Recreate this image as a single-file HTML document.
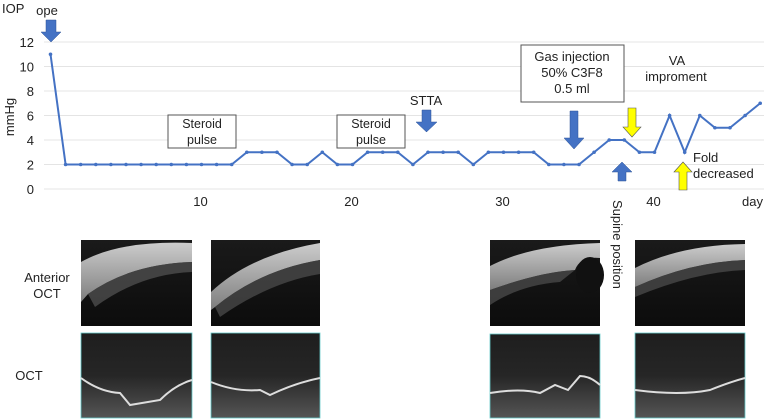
<!DOCTYPE html>
<html><head><meta charset="utf-8"><style>
html,body{margin:0;padding:0;background:#fff;}
svg{display:block;font-family:"Liberation Sans",Arial,sans-serif;}
</style></head><body>
<svg id="chart" width="764" height="420" viewBox="0 0 764 420" xmlns="http://www.w3.org/2000/svg">
<defs>
<linearGradient id="ag" x1="0" y1="0" x2="0" y2="1"><stop offset="0" stop-color="#1a1a1a"/><stop offset="1" stop-color="#0c0c0c"/></linearGradient>
<linearGradient id="og" x1="0" y1="0" x2="0" y2="1"><stop offset="0" stop-color="#1e1e1e"/><stop offset="0.5" stop-color="#262626"/><stop offset="1" stop-color="#555"/></linearGradient>
<linearGradient id="band" x1="0" y1="0" x2="0" y2="1"><stop offset="0" stop-color="#e0e0e0"/><stop offset="1" stop-color="#8a8a8a"/></linearGradient>
</defs>
<g id="grid"></g>
<g id="yticks"></g>
<g id="xticks"></g>
<text x="2" y="13" font-size="13" fill="#222">IOP</text>
<text x="14" y="117" font-size="13" fill="#222" text-anchor="middle" transform="rotate(-90 14 117)">mmHg</text>
<text x="742" y="206" font-size="13" fill="#222">day</text>
<g id="series"></g>

<text x="47" y="15" font-size="13" fill="#222" text-anchor="middle">ope</text>
<polygon points="46,20 56,20 56,32 61,32 51,42 41,32 46,32" fill="#4472c4" stroke="#2f5597" stroke-width="0.5"/>

<rect x="168" y="115" width="68" height="33" fill="#fff" stroke="#555"/>
<text x="202" y="128" font-size="12.5" fill="#222" text-anchor="middle">Steroid</text>
<text x="202" y="144" font-size="12.5" fill="#222" text-anchor="middle">pulse</text>
<rect x="337" y="115" width="68" height="33" fill="#fff" stroke="#555"/>
<text x="371" y="128" font-size="12.5" fill="#222" text-anchor="middle">Steroid</text>
<text x="371" y="144" font-size="12.5" fill="#222" text-anchor="middle">pulse</text>

<text x="426" y="105" font-size="13" fill="#222" text-anchor="middle">STTA</text>
<polygon points="422,110 431,110 431,122 437,122 426.5,132 416,122 422,122" fill="#4472c4" stroke="#2f5597" stroke-width="0.5"/>

<rect x="521" y="45" width="103" height="57" fill="#fff" stroke="#555"/>
<text x="572" y="61" font-size="13" fill="#222" text-anchor="middle">Gas injection</text>
<text x="572" y="77" font-size="13" fill="#222" text-anchor="middle">50% C3F8</text>
<text x="572" y="93" font-size="13" fill="#222" text-anchor="middle">0.5 ml</text>
<polygon points="570,111 578,111 578,138 584,138 574,149 564,138 570,138" fill="#4472c4" stroke="#2f5597" stroke-width="0.5"/>

<polygon points="618,181 626,181 626,172 632,172 622,162 612,172 618,172" fill="#4472c4" stroke="#2f5597" stroke-width="0.5"/>
<text x="613" y="200" font-size="13" fill="#222" transform="rotate(90 613 200)">Supine position</text>

<polygon points="628,108 636,108 636,127 641,127 632,137 623,127 628,127" fill="#ffff00" stroke="#555" stroke-width="0.6"/>
<text x="677" y="65" font-size="13" fill="#222" text-anchor="middle">VA</text>
<text x="676" y="81" font-size="13" fill="#222" text-anchor="middle">improment</text>

<polygon points="679,190 687,190 687,172 692,172 683,162 674,172 679,172" fill="#ffff00" stroke="#555" stroke-width="0.6"/>
<text x="693" y="162" font-size="13" fill="#222">Fold</text>
<text x="693" y="178" font-size="13" fill="#222">decreased</text>

<text x="47" y="282" font-size="13" fill="#222" text-anchor="middle">Anterior</text>
<text x="47" y="298" font-size="13" fill="#222" text-anchor="middle">OCT</text>
<text x="29" y="380" font-size="13" fill="#222" text-anchor="middle">OCT</text>

<g>
<rect x="81" y="240" width="111" height="86" fill="url(#ag)"/>
<path d="M81,262 Q120,240 192,243 L192,262 Q130,264 88,294 L81,302 Z" fill="url(#band)" opacity="0.9"/>
<path d="M88,294 Q130,264 192,262 L192,272 Q140,274 95,307 Z" fill="#555" opacity="0.7"/>
</g>
<g>
<rect x="211" y="240" width="109" height="86" fill="url(#ag)"/>
<path d="M211,292 Q250,255 320,243 L320,260 Q260,270 215,307 L211,310 Z" fill="url(#band)" opacity="0.9"/>
<path d="M215,307 Q260,270 320,260 L320,274 Q270,282 220,317 Z" fill="#505050" opacity="0.7"/>
</g>
<g>
<rect x="490" y="240" width="110" height="86" fill="url(#ag)"/>
<path d="M490,266 Q530,245 600,243 L600,258 Q580,256 575,270 Q540,272 490,290 Z" fill="url(#band)" opacity="0.9"/>
<ellipse cx="590" cy="275" rx="14" ry="18" fill="#111"/>
<path d="M490,290 Q540,272 575,270 L560,282 Q520,285 490,305 Z" fill="#505050" opacity="0.7"/>
</g>
<g>
<rect x="635" y="240" width="110" height="86" fill="url(#ag)"/>
<path d="M635,268 Q680,245 745,244 L745,260 Q690,262 635,287 Z" fill="url(#band)" opacity="0.9"/>
<path d="M635,287 Q690,262 745,260 L745,270 Q695,272 635,297 Z" fill="#505050" opacity="0.7"/>
</g>

<g>
<rect x="81" y="333" width="111" height="85" fill="url(#og)" stroke="#6cc" stroke-width="0.8"/>
<path d="M81,378 Q100,392 120,393 L130,405 L160,400 Q175,385 192,380" fill="none" stroke="#ddd" stroke-width="2"/>
</g>
<g>
<rect x="211" y="333" width="109" height="85" fill="url(#og)" stroke="#6cc" stroke-width="0.8"/>
<path d="M211,382 Q235,392 260,390 L270,395 Q295,383 320,378" fill="none" stroke="#ddd" stroke-width="2"/>
</g>
<g>
<rect x="490" y="334" width="110" height="84" fill="url(#og)" stroke="#6cc" stroke-width="0.8"/>
<path d="M490,393 Q520,388 540,393 L555,385 L568,390 L580,376 Q590,376 600,385" fill="none" stroke="#ddd" stroke-width="2"/>
</g>
<g>
<rect x="635" y="333" width="110" height="85" fill="url(#og)" stroke="#6cc" stroke-width="0.8"/>
<path d="M635,390 Q680,396 710,390 Q730,382 745,378" fill="none" stroke="#ddd" stroke-width="2"/>
</g>
</svg>
<script>
const days = [0,1,2,3,4,5,6,7,8,9,10,11,12,13,14,15,16,17,18,19,20,21,22,23,24,25,26,27,28,29,30,31,32,33,34,35,36,37,38,39,40,41,42,43,44,45,46,47];
const iop  = [11,2,2,2,2,2,2,2,2,2,2,2,2,3,3,3,2,2,3,2,2,3,3,3,2,3,3,3,2,3,3,3,3,2,2,2,3,4,4,3,3,6,3,6,5,5,6,7];
const yTicks = [0,2,4,6,8,10,12];
const xTicks = [10,20,30,40];
const NS = "http://www.w3.org/2000/svg";
function xs(d){return 50.5 + d*15.1;}
function ys(v){return 189 - v*12.25;}
function mk(tag, attrs, parent){const e=document.createElementNS(NS,tag);for(const k in attrs)e.setAttribute(k,attrs[k]);parent.appendChild(e);return e;}
const grid=document.getElementById('grid'), yt=document.getElementById('yticks'), xt=document.getElementById('xticks'), ser=document.getElementById('series');
yTicks.forEach(v=>{
  const l=mk('line',{x1:44,x2:764,y1:ys(v),y2:ys(v),stroke:'#e4e4e4','stroke-width':1},grid);
  
  
  const t=mk('text',{x:34,y:ys(v)+5,'font-size':13,fill:'#222','text-anchor':'end'},yt);
  t.textContent=v;
  
  
});
xTicks.forEach(d=>{
  const t=mk('text',{x:xs(d)-1,y:206,'font-size':13,fill:'#222','text-anchor':'middle'},xt);
  t.textContent=d;
  
  
});
const pts=days.map((d,i)=>xs(d)+','+ys(iop[i])).join(' ');
const pl=mk('polyline',{points:pts,fill:'none',stroke:'#4472c4','stroke-width':2},ser);


days.forEach((d,i)=>{
  const c=mk('circle',{cx:xs(d),cy:ys(iop[i]),r:1.8,fill:'#4472c4'},ser);
  
  
});
</script>
</body></html>
